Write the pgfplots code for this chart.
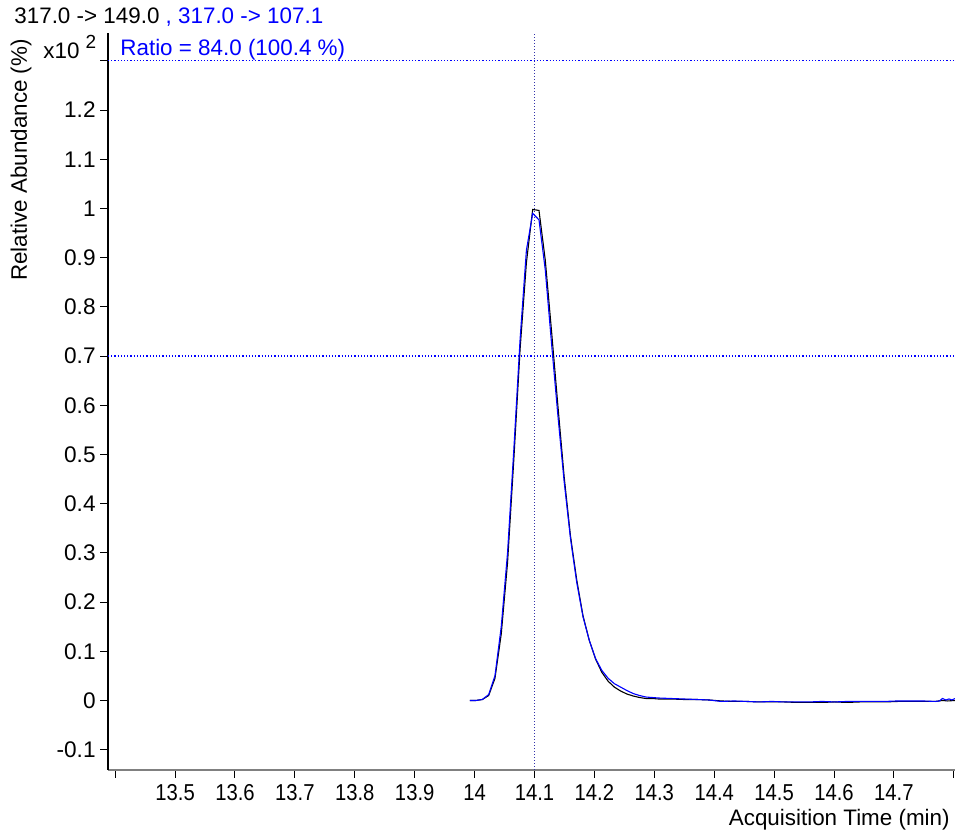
\documentclass[border=0pt]{standalone}
\usepackage{fontspec}
\setmainfont{Liberation Sans}
\newfontfamily\narrowfont[FakeStretch=0.88]{Liberation Sans}
\usepackage{pgfplots}
\pgfplotsset{compat=1.18}
\definecolor{trblue}{RGB}{0,0,255}
\definecolor{vline}{RGB}{50,50,170}

\pgfplotstableread{
t v
13.992 0.000
14.0025 0.000
14.013 0.002
14.0235 0.010
14.034 0.045
14.0445 0.135
14.055 0.280
14.0655 0.490
14.076 0.715
14.0865 0.890
14.097 0.998
14.1075 0.996
14.118 0.895
14.1285 0.750
14.139 0.600
14.1495 0.455
14.160 0.335
14.1705 0.245
14.181 0.172
14.1915 0.122
14.202 0.084
14.2125 0.057
14.223 0.039
14.2335 0.027
14.244 0.019
14.2545 0.013
14.265 0.009
14.2755 0.006
14.286 0.004
14.2965 0.004
14.307 0.003
14.328 0.003
14.349 0.002
14.370 0.002
14.391 0.001
14.412 -0.001
14.433 -0.002
14.454 -0.002
14.475 -0.003
14.496 -0.003
14.517 -0.003
14.538 -0.004
14.559 -0.004
14.580 -0.004
14.601 -0.003
14.622 -0.004
14.643 -0.003
14.664 -0.003
14.685 -0.003
14.706 -0.002
14.727 -0.002
14.748 -0.002
14.769 -0.002
14.781 0.000
14.790 -0.001
14.802 0.000
}\blacktrace

\pgfplotstableread{
t v
13.992 0.000
14.0025 0.000
14.013 0.002
14.0235 0.012
14.034 0.050
14.0445 0.150
14.055 0.300
14.0655 0.510
14.076 0.735
14.0865 0.915
14.097 0.990
14.1075 0.977
14.118 0.875
14.1285 0.725
14.139 0.580
14.1495 0.445
14.160 0.330
14.1705 0.240
14.181 0.170
14.1915 0.122
14.202 0.085
14.2125 0.061
14.223 0.045
14.2335 0.034
14.244 0.027
14.2545 0.020
14.265 0.014
14.2755 0.010
14.286 0.007
14.2965 0.006
14.307 0.005
14.328 0.004
14.349 0.003
14.370 0.002
14.391 0.001
14.412 -0.002
14.433 -0.001
14.454 -0.002
14.475 -0.003
14.496 -0.002
14.517 -0.003
14.538 -0.003
14.559 -0.003
14.580 -0.002
14.601 -0.003
14.622 -0.002
14.643 -0.002
14.664 -0.002
14.685 -0.002
14.706 -0.001
14.727 -0.001
14.748 -0.001
14.769 -0.002
14.776 -0.001
14.781 0.004
14.787 0.001
14.792 0.003
14.797 0.001
14.802 0.004
}\bluetrace

\begin{document}
\begin{tikzpicture}
\path[use as bounding box] (0,0) rectangle (477.5pt,416.5pt);
\begin{axis}[
  at={(54pt,31.5pt)}, anchor=south west,
  scale only axis, width=423.5pt, height=368.5pt,
  xmin=13.388, xmax=14.802, ymin=-0.1413, ymax=1.3567,
  axis x line=bottom, axis y line=left,
  axis line style={-, line width=0.6pt, black},
  x axis line style={gray},
  tick align=outside,
  major tick length=4pt,
  tick style={black, line width=0.5pt},
  xtick={13.4,13.5,13.6,13.7,13.8,13.9,14,14.1,14.2,14.3,14.4,14.5,14.6,14.7,14.8},
  xticklabels={,13.5,13.6,13.7,13.8,13.9,14,14.1,14.2,14.3,14.4,14.5,14.6,14.7,},
  ytick={-0.1,0,0.1,0.2,0.3,0.4,0.5,0.6,0.7,0.8,0.9,1,1.1,1.2,1.3},
  yticklabels={-0.1,0,0.1,0.2,0.3,0.4,0.5,0.6,0.7,0.8,0.9,1,1.1,1.2,},
  xticklabel style={font=\narrowfont\fontsize{11.5}{13}\selectfont, inner sep=2pt, yshift=-1pt},
  yticklabel style={font=\fontsize{11.3}{13}\selectfont, inner sep=2pt},
  /pgf/number format/assume math mode=true,
  clip=false,
]
\addplot[trblue, densely dotted, line width=0.6pt] coordinates {(13.388,1.3) (14.802,1.3)};
\addplot[trblue, densely dotted, line width=0.6pt] coordinates {(13.388,0.7) (14.802,0.7)};
\addplot[vline, densely dotted, line width=0.5pt] coordinates {(14.1,-0.1413) (14.1,1.3567)};
\addplot[black, line width=0.55pt] table[x=t, y=v] {\blacktrace};
\addplot[trblue, line width=0.55pt] table[x=t, y=v] {\bluetrace};
\end{axis}
\node[anchor=west, inner sep=0, font=\fontsize{11.2}{13}\selectfont] at (7pt,408pt)
  {317.0 -> 149.0 \textcolor{trblue}{, 317.0 -> 107.1}};
\node[anchor=west, inner sep=0, font=\fontsize{11.2}{13}\selectfont] at (21.5pt,393pt)
  {x10 \raisebox{0.42em}{\fontsize{9.5}{10}\selectfont 2}};
\node[anchor=west, inner sep=0, text=trblue, font=\fontsize{11.2}{13}\selectfont] at (60pt,391.5pt)
  {Ratio = 84.0 (100.4 \%)};
\node[rotate=90, inner sep=0, font=\fontsize{11.2}{13}\selectfont] at (10.5pt,336.5pt)
  {Relative Abundance (\%)};
\node[anchor=east, inner sep=0, font=\fontsize{11.2}{13}\selectfont] at (475pt,6.5pt)
  {Acquisition Time (min)};
\end{tikzpicture}
\end{document}
